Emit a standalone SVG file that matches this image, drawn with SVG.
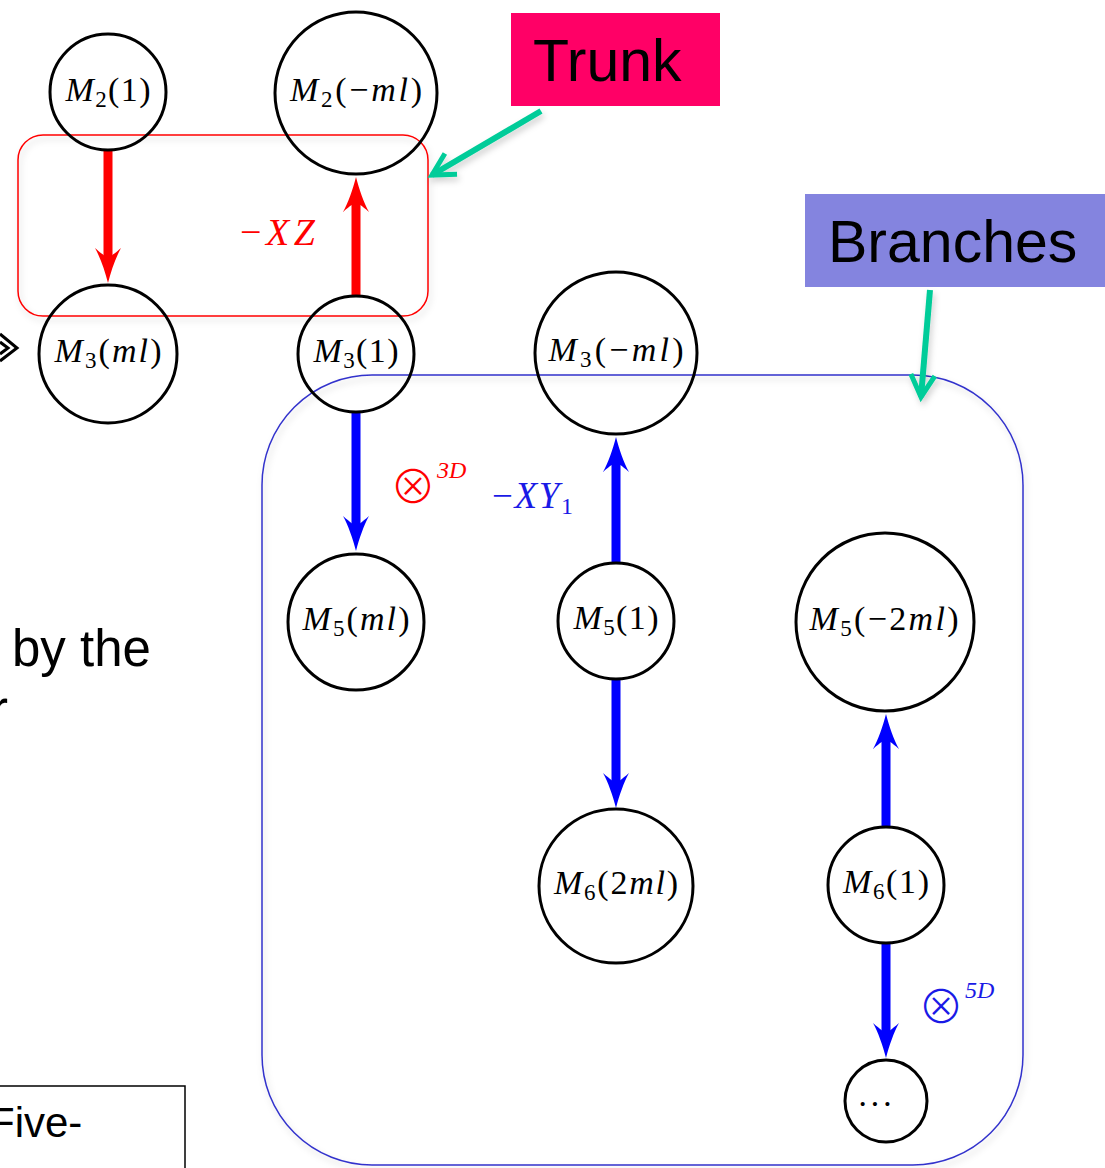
<svg xmlns="http://www.w3.org/2000/svg" width="1105" height="1168" viewBox="0 0 1105 1168">
<style>
.node{fill:none;stroke:#000;stroke-width:3}
.t{font-family:"Liberation Serif",serif;font-size:34px;fill:#000;text-anchor:middle}
.i{font-style:italic}
.sub{font-size:23px}
.red{stroke:#FF0000;stroke-width:9;fill:none}
.blue{stroke:#0000FF;stroke-width:9;fill:none}
.teal{stroke:#00CC99;stroke-width:6;fill:none;stroke-linecap:butt}
.sans{font-family:"Liberation Sans",Arial,sans-serif;fill:#000}
.otimes{font-family:"Noto Sans CJK SC","DejaVu Sans",sans-serif;font-size:46px;font-weight:300;text-anchor:middle}
</style>
<defs>
<filter id="sh" filterUnits="userSpaceOnUse" x="0" y="0" width="1105" height="1168">
<feDropShadow dx="2" dy="4" stdDeviation="3" flood-color="#000" flood-opacity="0.18"/>
</filter>
<marker id="ahR" markerUnits="userSpaceOnUse" viewBox="-20 -15 45 30" refX="0" refY="0" markerWidth="45" markerHeight="30" orient="auto" overflow="visible">
<path d="M20,0 C8,-3 -6,-8 -15,-13 C-8,-5 -6,-2 -6,0 C-6,2 -8,5 -15,13 C-6,8 8,3 20,0 Z" fill="#FF0000"/>
</marker>
<marker id="ahB" markerUnits="userSpaceOnUse" viewBox="-20 -15 45 30" refX="0" refY="0" markerWidth="45" markerHeight="30" orient="auto" overflow="visible">
<path d="M20,0 C8,-3 -6,-8 -15,-13 C-8,-5 -6,-2 -6,0 C-6,2 -8,5 -15,13 C-6,8 8,3 20,0 Z" fill="#0000FF"/>
</marker>
<marker id="ahT" markerUnits="userSpaceOnUse" viewBox="-30 -20 40 40" refX="0" refY="0" markerWidth="40" markerHeight="40" orient="auto" overflow="visible">
<path d="M-22,-12 L0,0 L-22,12" fill="none" stroke="#00CC99" stroke-width="5" stroke-linejoin="miter"/>
</marker>
</defs>
<rect width="1105" height="1168" fill="#fff"/>

<!-- partial slide text on the left -->
<g id="left-text">
<text class="sans" x="12" y="666" font-size="51">by the</text>
<text class="sans" x="-9" y="727" font-size="51">r</text>
<path d="M0,334 L17,348 L0,361 M0,342 L8,348 L0,354" fill="none" stroke="#000" stroke-width="3"/>
<rect x="-5" y="1086" width="190" height="90" fill="none" stroke="#000" stroke-width="1.5"/>
<text class="sans" x="-11" y="1137" font-size="42">Five-</text>
</g>

<!-- group frames -->
<g id="trunk-frame">
<rect x="18" y="135" width="410" height="181" rx="25" fill="none" stroke="#FF0000" stroke-width="1.5" filter="url(#sh)"/>
</g>
<g id="branches-frame">
<rect x="262" y="375" width="761" height="790" rx="110" fill="none" stroke="#3333CC" stroke-width="1.5" filter="url(#sh)"/>
</g>

<!-- callout labels -->
<g id="trunk-label">
<rect x="511" y="13" width="209" height="93" fill="#FF0066"/>
<text class="sans" x="533" y="81" font-size="59">Trunk</text>
</g>
<g id="branches-label">
<rect x="805" y="194" width="300" height="93" fill="#8484DF"/>
<text class="sans" x="828" y="262" font-size="59">Branches</text>
</g>

<!-- connectors -->
<g id="connectors">
<line class="red" x1="108" y1="151" x2="108" y2="263" marker-end="url(#ahR)"/>
<line class="red" x1="356" y1="296" x2="356" y2="197" marker-end="url(#ahR)"/>
<line class="blue" x1="356" y1="412" x2="356" y2="531" marker-end="url(#ahB)"/>
<line class="blue" x1="616" y1="563" x2="616" y2="457" marker-end="url(#ahB)"/>
<line class="blue" x1="616" y1="680" x2="616" y2="788" marker-end="url(#ahB)"/>
<line class="blue" x1="886" y1="827" x2="886" y2="734" marker-end="url(#ahB)"/>
<line class="blue" x1="886" y1="943" x2="886" y2="1038" marker-end="url(#ahB)"/>
<g filter="url(#sh)">
<line class="teal" x1="541" y1="111" x2="432" y2="175" marker-end="url(#ahT)"/>
<line class="teal" x1="930" y1="290" x2="921" y2="397" marker-end="url(#ahT)"/>
</g>
</g>

<!-- edge labels -->
<g id="edge-labels">
<text font-family="'Liberation Serif',serif" font-size="38" fill="#FF0000" x="240" y="245" textLength="75" lengthAdjust="spacing">−<tspan font-style="italic">XZ</tspan></text>
<text class="otimes" fill="#FF0000" x="413" y="503">⊗</text>
<text font-family="'Liberation Serif',serif" font-size="24" font-style="italic" fill="#FF0000" x="437" y="478">3D</text>
<text font-family="'Liberation Serif',serif" font-size="37" fill="#1A1AE6" x="492" y="508" textLength="81" lengthAdjust="spacing">−<tspan font-style="italic">XY</tspan><tspan font-size="24" dy="6">1</tspan></text>
<text class="otimes" fill="#1A1AE6" x="941" y="1023">⊗</text>
<text font-family="'Liberation Serif',serif" font-size="24" font-style="italic" fill="#1A1AE6" x="965" y="998">5D</text>
</g>

<!-- nodes -->
<g id="n-M2-1"><circle class="node" cx="108" cy="92" r="58"/>
<text class="t" x="108" y="101" textLength="85" lengthAdjust="spacing"><tspan class="i">M</tspan><tspan class="sub" dy="6">2</tspan><tspan dy="-6">(1)</tspan></text></g>
<g id="n-M2-mml"><circle class="node" cx="356" cy="93" r="81"/>
<text class="t" x="356" y="101" textLength="132" lengthAdjust="spacing"><tspan class="i">M</tspan><tspan class="sub" dy="6">2</tspan><tspan dy="-6">(−</tspan><tspan class="i">ml</tspan>)</text></g>
<g id="n-M3-ml"><circle class="node" cx="108" cy="354" r="69"/>
<text class="t" x="108" y="362" textLength="107" lengthAdjust="spacing"><tspan class="i">M</tspan><tspan class="sub" dy="6">3</tspan><tspan dy="-6">(</tspan><tspan class="i">ml</tspan>)</text></g>
<g id="n-M3-1"><circle class="node" cx="356" cy="354" r="58"/>
<text class="t" x="356" y="362" textLength="85" lengthAdjust="spacing"><tspan class="i">M</tspan><tspan class="sub" dy="6">3</tspan><tspan dy="-6">(1)</tspan></text></g>
<g id="n-M3-mml"><circle class="node" cx="616" cy="353" r="81"/>
<text class="t" x="616" y="361" textLength="135" lengthAdjust="spacing"><tspan class="i">M</tspan><tspan class="sub" dy="6">3</tspan><tspan dy="-6">(−</tspan><tspan class="i">ml</tspan>)</text></g>
<g id="n-M5-ml"><circle class="node" cx="356" cy="622" r="68"/>
<text class="t" x="356" y="630" textLength="107" lengthAdjust="spacing"><tspan class="i">M</tspan><tspan class="sub" dy="6">5</tspan><tspan dy="-6">(</tspan><tspan class="i">ml</tspan>)</text></g>
<g id="n-M5-1"><circle class="node" cx="616" cy="621" r="58"/>
<text class="t" x="616" y="629" textLength="85" lengthAdjust="spacing"><tspan class="i">M</tspan><tspan class="sub" dy="6">5</tspan><tspan dy="-6">(1)</tspan></text></g>
<g id="n-M5-m2ml"><circle class="node" cx="885" cy="622" r="89"/>
<text class="t" x="884" y="630" textLength="149" lengthAdjust="spacing"><tspan class="i">M</tspan><tspan class="sub" dy="6">5</tspan><tspan dy="-6">(−2</tspan><tspan class="i">ml</tspan>)</text></g>
<g id="n-M6-2ml"><circle class="node" cx="616" cy="886" r="77"/>
<text class="t" x="616" y="894" textLength="124" lengthAdjust="spacing"><tspan class="i">M</tspan><tspan class="sub" dy="6">6</tspan><tspan dy="-6">(2</tspan><tspan class="i">ml</tspan>)</text></g>
<g id="n-M6-1"><circle class="node" cx="886" cy="885" r="58"/>
<text class="t" x="886" y="893" textLength="86" lengthAdjust="spacing"><tspan class="i">M</tspan><tspan class="sub" dy="6">6</tspan><tspan dy="-6">(1)</tspan></text></g>
<g id="n-dots"><circle class="node" cx="886" cy="1101" r="41"/>
<text class="t" x="875" y="1115" textLength="36" lengthAdjust="spacing">· · ·</text></g>
</svg>
